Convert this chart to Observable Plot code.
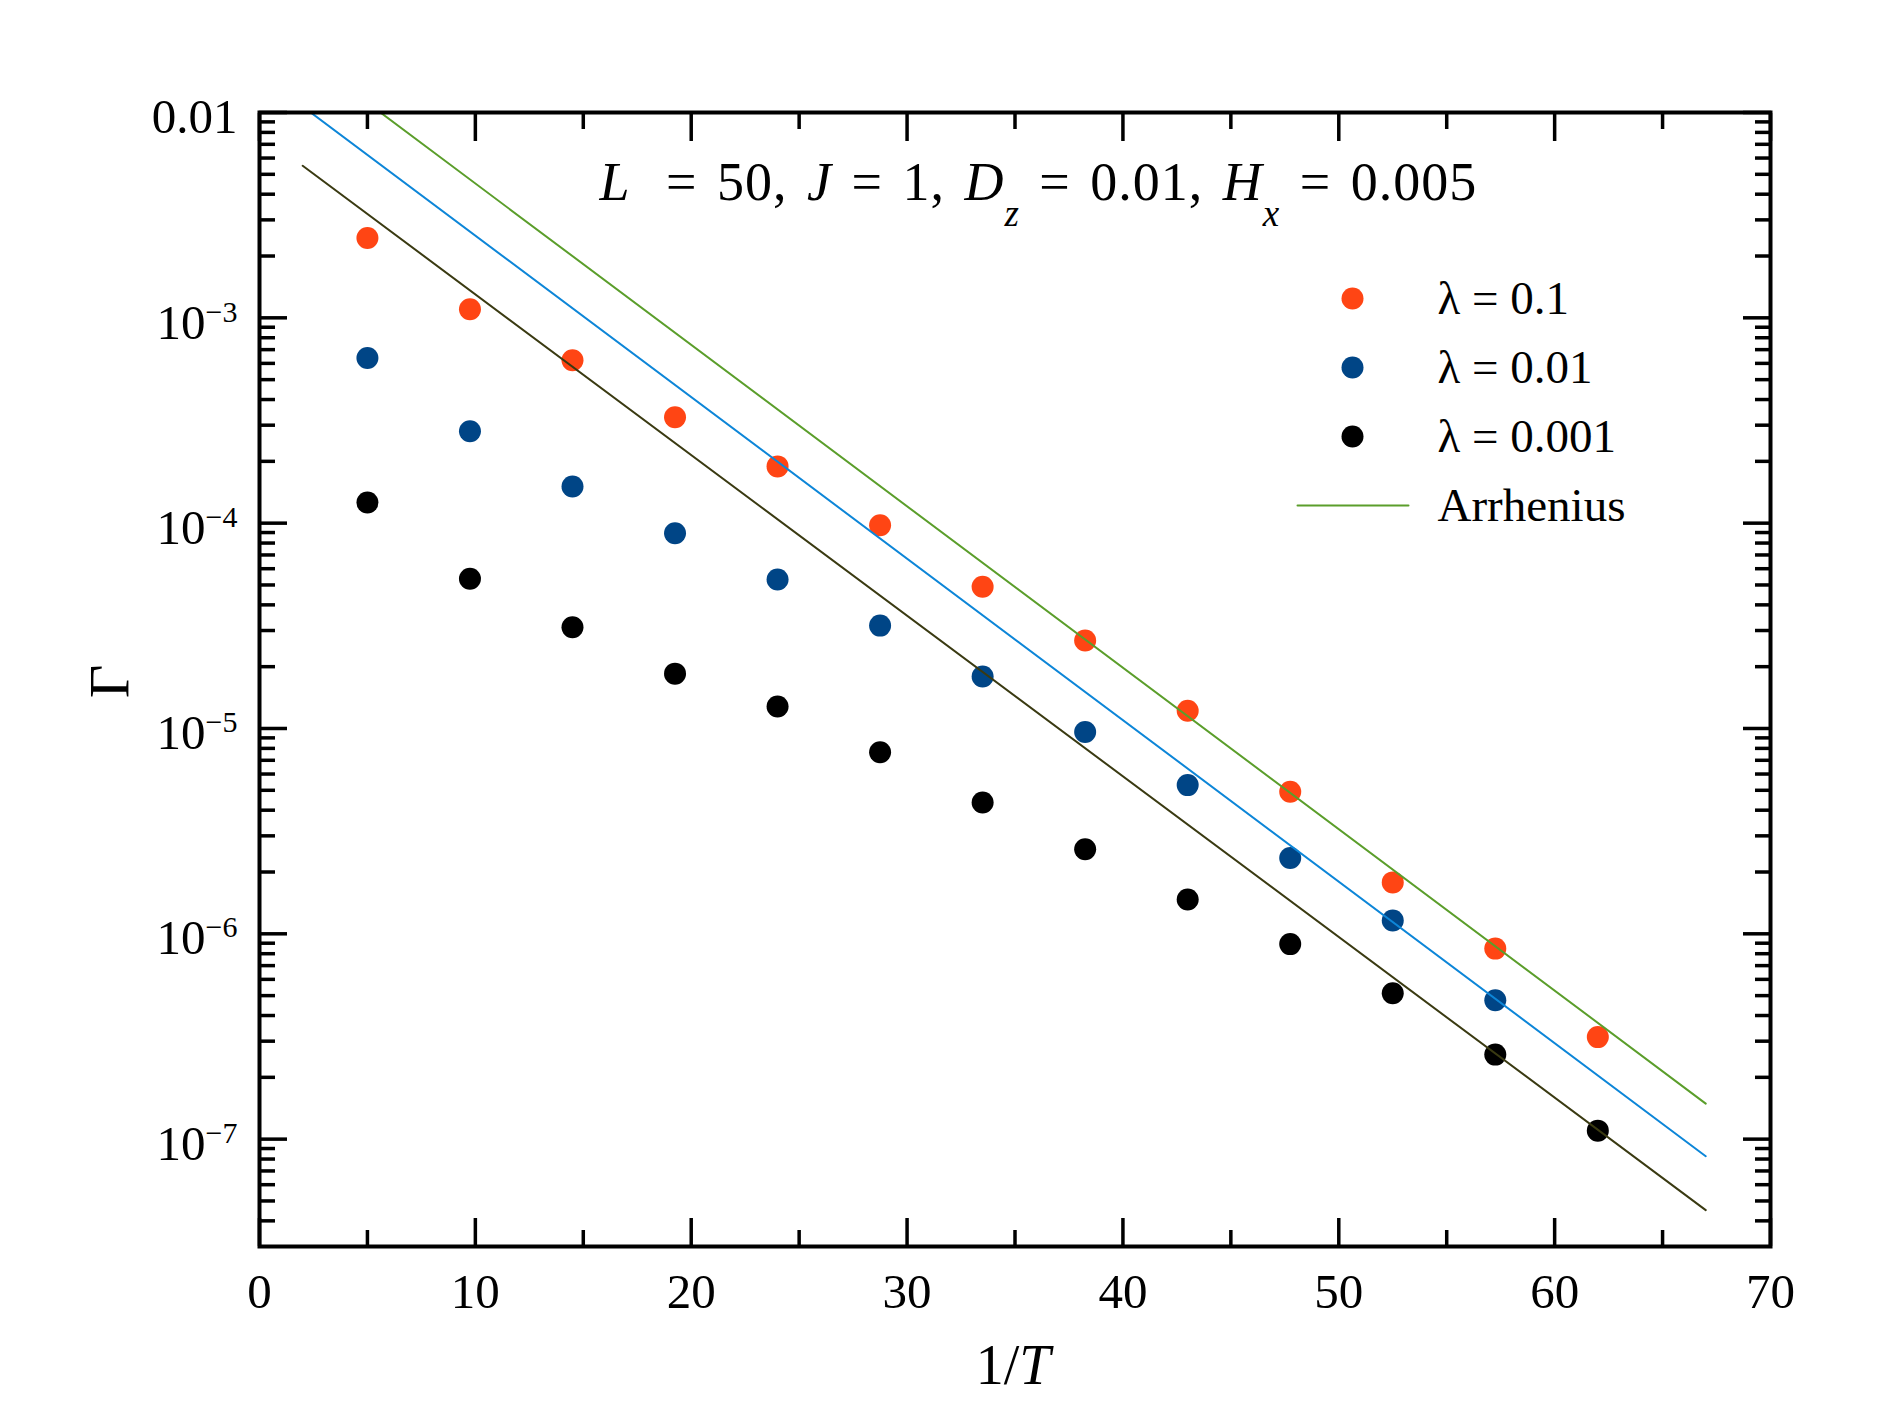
<!DOCTYPE html>
<html>
<head>
<meta charset="utf-8">
<script src="https://cdn.jsdelivr.net/npm/d3@7"></script>
<script src="https://cdn.jsdelivr.net/npm/@observablehq/plot@0.6"></script>
<style>
  html, body { margin: 0; padding: 0; background: #ffffff; }
  #chart { width: 1889px; height: 1417px; }
</style>
</head>
<body>
<div id="chart"></div>
<script>
// ---------- data ----------
const invT = [5, 9.75, 14.5, 19.25, 24, 28.75, 33.5, 38.25, 43, 47.75, 52.5, 57.25, 62];
const gammaLambda01 = [2.45e-3, 1.10e-3, 6.21e-4, 3.28e-4, 1.89e-4, 9.77e-5, 4.90e-5, 2.68e-5, 1.22e-5, 4.92e-6, 1.78e-6, 8.47e-7, 3.14e-7];
const gammaLambda001 = [6.37e-4, 2.80e-4, 1.51e-4, 8.93e-5, 5.32e-5, 3.17e-5, 1.79e-5, 9.62e-6, 5.30e-6, 2.34e-6, 1.16e-6, 4.75e-7];
const gammaLambda0001 = [1.26e-4, 5.36e-5, 3.11e-5, 1.85e-5, 1.28e-5, 7.66e-6, 4.36e-6, 2.58e-6, 1.47e-6, 8.91e-7, 5.14e-7, 2.58e-7, 1.10e-7];
const seriesLabels = ["λ = 0.1", "λ = 0.01", "λ = 0.001"];
const seriesColors = ["#ff4514", "#004586", "#000000"];

// Arrhenius fits (end points of each straight line)
const arrheniusX = [2, 67];
const arrheniusLambda01 = [1.92e-2, 1.49e-7];
const arrheniusLambda001 = [1.07e-2, 8.26e-8];
const arrheniusLambda0001 = [5.50e-3, 4.51e-8];
const arrheniusColors = ["#5b9e2b", "#0d86d8", "#3a3a12"];
const arrheniusLabel = "Arrhenius";

// axes
const xDomain = [0, 70];
const yDomain = [3e-8, 1e-2];
const xMajorTicks = [0, 10, 20, 30, 40, 50, 60, 70];
const xMinorTicks = [5, 15, 25, 35, 45, 55, 65];
const yMajorTicks = [1e-2, 1e-3, 1e-4, 1e-5, 1e-6, 1e-7];
const yMinorMantissas = [2, 3, 4, 5, 6, 7, 8, 9];
const yMinorExponents = [-8, -7, -6, -5, -4, -3];
const xLabel = "1/T";
const yLabel = "Γ";
const params = [
  {name: "L", sub: "", value: "50"},
  {name: "J", sub: "", value: "1"},
  {name: "D", sub: "z", value: "0.01"},
  {name: "H", sub: "x", value: "0.005"}
];

// ---------- derived tables ----------
const yMinorTicks = yMinorExponents.flatMap(e => yMinorMantissas.map(m => m * Math.pow(10, e)))
  .filter(v => v > yDomain[0] * 1.02 && v < yDomain[1]);
const seriesValues = [gammaLambda01, gammaLambda001, gammaLambda0001];
const points = seriesValues.flatMap((vals, s) => vals.map((v, i) => ({x: invT[i], y: v, series: seriesLabels[s]})));
const fits = [arrheniusLambda01, arrheniusLambda001, arrheniusLambda0001].map((ys, k) => ({
  color: arrheniusColors[k],
  rows: ys.map((y, i) => ({x: arrheniusX[i], y}))
}));
const annotText = params.map(p => p.name + (p.sub ? "_" + p.sub : "") + " = " + p.value).join(", ");
const legendEntries = [
  {label: seriesLabels[0], kind: "dot", color: seriesColors[0]},
  {label: seriesLabels[1], kind: "dot", color: seriesColors[1]},
  {label: seriesLabels[2], kind: "dot", color: seriesColors[2]},
  {label: arrheniusLabel, kind: "line", color: arrheniusColors[0]}
];
const swatchShape = {draw(context, l) { context.moveTo(0, 0); context.lineTo(0, -l); }};

const FONT = "'Liberation Serif', 'Times New Roman', Times, serif";
const TICKW = 3.5;

const chart = Plot.plot({
  width: 1889,
  height: 1417,
  marginLeft: 259,
  marginRight: 119,
  marginTop: 112,
  marginBottom: 171,
  style: {fontFamily: FONT, fontSize: "49px", background: "#ffffff", color: "#000000"},
  x: {domain: xDomain},
  y: {type: "log", domain: yDomain},
  color: {domain: seriesLabels, range: seriesColors},
  marks: [
    Plot.dot(points, {x: "x", y: "y", r: 11, fill: "series", stroke: "none"}),
    ...fits.map(f => Plot.line(f.rows, {x: "x", y: "y", stroke: f.color, strokeWidth: 2, clip: true})),
    Plot.frame({stroke: "#000", strokeWidth: 4}),
    // inward ticks on all four sides
    Plot.axisX({ticks: xMajorTicks, anchor: "bottom", tickSize: -28, strokeWidth: TICKW, fill: "none", label: null}),
    Plot.axisX({ticks: xMinorTicks, anchor: "bottom", tickSize: -16, strokeWidth: TICKW, fill: "none", label: null}),
    Plot.axisX({ticks: xMajorTicks, anchor: "top", tickSize: -28, strokeWidth: TICKW, fill: "none", label: null}),
    Plot.axisX({ticks: xMinorTicks, anchor: "top", tickSize: -16, strokeWidth: TICKW, fill: "none", label: null}),
    Plot.axisY({ticks: yMajorTicks, anchor: "left", tickSize: -28, strokeWidth: TICKW, fill: "none", label: null}),
    Plot.axisY({ticks: yMinorTicks, anchor: "left", tickSize: -16, strokeWidth: TICKW, fill: "none", label: null}),
    Plot.axisY({ticks: yMajorTicks, anchor: "right", tickSize: -28, strokeWidth: TICKW, fill: "none", label: null}),
    Plot.axisY({ticks: yMinorTicks, anchor: "right", tickSize: -16, strokeWidth: TICKW, fill: "none", label: null}),
    // tick labels
    Plot.axisX({ticks: xMajorTicks, anchor: "bottom", tickSize: 0, tickPadding: 27, fontSize: 49, label: null}),
    Plot.axisY({ticks: yMajorTicks, anchor: "left", tickSize: 0, tickPadding: 22, dy: 5, fontSize: 49, label: null,
      tickFormat: d => (Math.abs(d - 1e-2) < 1e-9 ? "0.01" : "10^" + Math.round(Math.log10(d)))}),
    // axis titles
    Plot.text([xLabel], {text: d => d, frameAnchor: "bottom", dy: 137, dx: -2, lineAnchor: "bottom", textAnchor: "middle", fontSize: 56}),
    Plot.text([yLabel], {text: d => d, frameAnchor: "left", dx: -131, dy: 2, rotate: -90, lineAnchor: "bottom", textAnchor: "middle", fontSize: 58}),
    // annotation
    Plot.text([annotText], {text: d => d, frameAnchor: "top-left", dx: 340, dy: 87, lineAnchor: "bottom", textAnchor: "start", fontSize: 54}),
    // legend
    ...legendEntries.flatMap((e, i) => [
      e.kind === "dot"
        ? Plot.dot([e], {frameAnchor: "top-left", dx: 1093, dy: 186 + i * 69, r: 11, fill: e.color})
        : Plot.vector([e], {frameAnchor: "top-left", dx: 1038, dy: 186 + i * 69, length: 111, rotate: 90, anchor: "start", shape: swatchShape, stroke: e.color, strokeWidth: 2}),
      Plot.text([e], {text: "label", frameAnchor: "top-left", dx: 1178, dy: 201 + i * 69, lineAnchor: "bottom", textAnchor: "start", fontSize: 47})
    ])
  ]
});

document.getElementById("chart").append(chart);

// ---------- typographic post-processing (super/subscripts, italics) ----------
const root = d3.select(chart);
root.selectAll("text").each(function () {
  const t = this.textContent;
  const el = d3.select(this);
  if (/^10\^-?\d+$/.test(t)) {
    const exp = t.slice(3).replace("-", "\u2212");
    el.text("10");
    el.append("tspan").attr("dy", -17).attr("font-size", "30px").text(exp);
  } else if (t === annotText) {
    el.text("");
    el.style("white-space", "pre").style("letter-spacing", "1px").style("word-spacing", "5px");
    params.forEach((p, i) => {
      if (i > 0) el.append("tspan").text(", ");
      el.append("tspan").attr("font-style", "italic").text(p.name);
      let back = 0;
      if (p.sub) {
        el.append("tspan").attr("font-style", "italic").attr("font-size", "37px").attr("dy", 26).text(p.sub);
        back = -26;
      }
      const eq = el.append("tspan").text(" = " + p.value);
      if (back) eq.attr("dy", back);
      if (i === 0) eq.attr("dx", 16);
    });
  } else if (t === xLabel) {
    el.text("1/");
    el.append("tspan").attr("font-style", "italic").text("T");
  }
});
</script>
</body>
</html>
